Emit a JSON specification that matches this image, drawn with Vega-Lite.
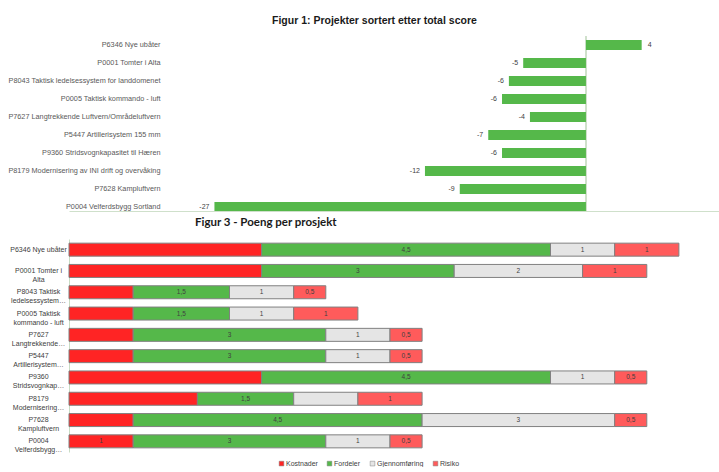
{
  "$schema": "https://vega.github.io/schema/vega-lite/v6.json",
  "padding": {"left": 7, "top": 16, "right": 0, "bottom": 0},
  "background": "white",
  "config": {"view": {"stroke": null}, "font": "Liberation Sans"},
  "datasets": {
    "scores": [
      {"name": "P6346 Nye ubåter", "score": 4.05, "label": "4"},
      {"name": "P0001 Tomter i Alta", "score": -4.56, "label": "-5"},
      {"name": "P8043 Taktisk ledelsessystem for landdomenet", "score": -5.6, "label": "-6"},
      {"name": "P0005 Taktisk kommando - luft", "score": -6.1, "label": "-6"},
      {"name": "P7627 Langtrekkende Luftvern/Områdeluftvern", "score": -4.07, "label": "-4"},
      {"name": "P5447 Artillerisystem 155 mm", "score": -7.1, "label": "-7"},
      {"name": "P9360 Stridsvognkapasitet til Hæren", "score": -6.1, "label": "-6"},
      {"name": "P8179 Modernisering av INI drift og overvåking", "score": -11.7, "label": "-12"},
      {"name": "P7628 Kampluftvern", "score": -9.17, "label": "-9"},
      {"name": "P0004 Velferdsbygg Sortland", "score": -27, "label": "-27"}
    ],
    "parts": [
      {"project": "P6346 Nye ubåter", "category": "Kostnader", "rank": 1, "value": 3, "label": ""},
      {"project": "P6346 Nye ubåter", "category": "Fordeler", "rank": 2, "value": 4.5, "label": "4,5"},
      {"project": "P6346 Nye ubåter", "category": "Gjennomføring", "rank": 3, "value": 1, "label": "1"},
      {"project": "P6346 Nye ubåter", "category": "Risiko", "rank": 4, "value": 1, "label": "1"},
      {"project": "P0001 Tomter i|Alta", "category": "Kostnader", "rank": 1, "value": 3, "label": ""},
      {"project": "P0001 Tomter i|Alta", "category": "Fordeler", "rank": 2, "value": 3, "label": "3"},
      {"project": "P0001 Tomter i|Alta", "category": "Gjennomføring", "rank": 3, "value": 2, "label": "2"},
      {"project": "P0001 Tomter i|Alta", "category": "Risiko", "rank": 4, "value": 1, "label": "1"},
      {"project": "P8043 Taktisk|ledelsessystem…", "category": "Kostnader", "rank": 1, "value": 1, "label": ""},
      {"project": "P8043 Taktisk|ledelsessystem…", "category": "Fordeler", "rank": 2, "value": 1.5, "label": "1,5"},
      {"project": "P8043 Taktisk|ledelsessystem…", "category": "Gjennomføring", "rank": 3, "value": 1, "label": "1"},
      {"project": "P8043 Taktisk|ledelsessystem…", "category": "Risiko", "rank": 4, "value": 0.5, "label": "0,5"},
      {"project": "P0005 Taktisk|kommando - luft", "category": "Kostnader", "rank": 1, "value": 1, "label": ""},
      {"project": "P0005 Taktisk|kommando - luft", "category": "Fordeler", "rank": 2, "value": 1.5, "label": "1,5"},
      {"project": "P0005 Taktisk|kommando - luft", "category": "Gjennomføring", "rank": 3, "value": 1, "label": "1"},
      {"project": "P0005 Taktisk|kommando - luft", "category": "Risiko", "rank": 4, "value": 1, "label": "1"},
      {"project": "P7627|Langtrekkende…", "category": "Kostnader", "rank": 1, "value": 1, "label": ""},
      {"project": "P7627|Langtrekkende…", "category": "Fordeler", "rank": 2, "value": 3, "label": "3"},
      {"project": "P7627|Langtrekkende…", "category": "Gjennomføring", "rank": 3, "value": 1, "label": "1"},
      {"project": "P7627|Langtrekkende…", "category": "Risiko", "rank": 4, "value": 0.5, "label": "0,5"},
      {"project": "P5447|Artillerisystem…", "category": "Kostnader", "rank": 1, "value": 1, "label": ""},
      {"project": "P5447|Artillerisystem…", "category": "Fordeler", "rank": 2, "value": 3, "label": "3"},
      {"project": "P5447|Artillerisystem…", "category": "Gjennomføring", "rank": 3, "value": 1, "label": "1"},
      {"project": "P5447|Artillerisystem…", "category": "Risiko", "rank": 4, "value": 0.5, "label": "0,5"},
      {"project": "P9360|Stridsvognkap…", "category": "Kostnader", "rank": 1, "value": 3, "label": ""},
      {"project": "P9360|Stridsvognkap…", "category": "Fordeler", "rank": 2, "value": 4.5, "label": "4,5"},
      {"project": "P9360|Stridsvognkap…", "category": "Gjennomføring", "rank": 3, "value": 1, "label": "1"},
      {"project": "P9360|Stridsvognkap…", "category": "Risiko", "rank": 4, "value": 0.5, "label": "0,5"},
      {"project": "P8179|Modernisering…", "category": "Kostnader", "rank": 1, "value": 2, "label": ""},
      {"project": "P8179|Modernisering…", "category": "Fordeler", "rank": 2, "value": 1.5, "label": "1,5"},
      {"project": "P8179|Modernisering…", "category": "Gjennomføring", "rank": 3, "value": 1, "label": ""},
      {"project": "P8179|Modernisering…", "category": "Risiko", "rank": 4, "value": 1, "label": "1"},
      {"project": "P7628|Kampluftvern", "category": "Kostnader", "rank": 1, "value": 1, "label": ""},
      {"project": "P7628|Kampluftvern", "category": "Fordeler", "rank": 2, "value": 4.5, "label": "4,5"},
      {"project": "P7628|Kampluftvern", "category": "Gjennomføring", "rank": 3, "value": 3, "label": "3"},
      {"project": "P7628|Kampluftvern", "category": "Risiko", "rank": 4, "value": 0.5, "label": "0,5"},
      {"project": "P0004|Velferdsbygg…", "category": "Kostnader", "rank": 1, "value": 1, "label": "1"},
      {"project": "P0004|Velferdsbygg…", "category": "Fordeler", "rank": 2, "value": 3, "label": "3"},
      {"project": "P0004|Velferdsbygg…", "category": "Gjennomføring", "rank": 3, "value": 1, "label": "1"},
      {"project": "P0004|Velferdsbygg…", "category": "Risiko", "rank": 4, "value": 0.5, "label": "0,5"}
    ]
  },
  "concat": [
    {
      "width": 650,
      "height": 175,
      "data": {"name": "scores"},
      "title": {"text": "Figur 1: Projekter sortert etter total score", "anchor": "start", "frame": "group", "dx": 203, "font": "Liberation Sans", "fontSize": 10.5, "fontWeight": "bold", "color": "#1a1a1a", "offset": 9},
      "encoding": {
        "y": {"field": "name", "type": "nominal", "sort": null, "scale": {"range": [0, 180], "paddingInner": 0.44, "paddingOuter": 0.22},
          "axis": {"title": null, "domain": false, "ticks": false, "labelAlign": "right", "labelFont": "Liberation Sans", "labelFontSize": 7.3, "labelColor": "#595959", "labelPadding": -91, "labelLimit": 300, "minExtent": 62, "maxExtent": 62}}
      },
      "layer": [
        {
          "mark": {"type": "rule", "color": "#cfe0cb", "strokeWidth": 1},
          "encoding": {"x": {"datum": 0, "type": "quantitative", "scale": {"domain": [-37.57, 9.67], "nice": false, "zero": false}}, "y": null}
        },
        {
          "mark": {"type": "bar", "color": "#55b84a", "size": 10, "clip": true},
          "encoding": {
            "x": {"field": "score", "type": "quantitative", "scale": {"domain": [-37.57, 9.67], "nice": false, "zero": false},
              "axis": {"title": null, "labels": false, "ticks": false, "grid": false, "domain": true, "domainColor": "#cfe0cb", "minExtent": 0, "maxExtent": 0}}
          }
        },
        {
          "transform": [{"filter": "datum.score >= 0"}],
          "mark": {"type": "text", "align": "left", "dx": 6, "fontSize": 7, "color": "#404040", "font": "Liberation Sans"},
          "encoding": {"x": {"field": "score", "type": "quantitative"}, "text": {"field": "label"}}
        },
        {
          "transform": [{"filter": "datum.score < 0"}],
          "mark": {"type": "text", "align": "right", "dx": -5, "fontSize": 7, "color": "#404040", "font": "Liberation Sans"},
          "encoding": {"x": {"field": "score", "type": "quantitative"}, "text": {"field": "label"}}
        }
      ]
    },
    {
      "width": 642,
      "height": 213,
      "data": {"name": "parts"},
      "title": {"text": "Figur 3 - Poeng per prosjekt", "anchor": "start", "frame": "group", "dx": 126, "font": "Lato", "fontSize": 11.5, "fontWeight": "bold", "color": "#1a1a1a", "offset": 11},
      "encoding": {
        "y": {"field": "project", "type": "nominal", "sort": null,
          "axis": {"title": null, "domain": true, "domainColor": "#c9dcc5", "ticks": false, "labelAlign": "center", "labelPadding": 31, "labelExpr": "split(datum.label, '|')", "labelFont": "Liberation Sans", "labelFontSize": 7, "labelColor": "#404040", "labelLineHeight": 9, "labelLimit": 200, "minExtent": 62, "maxExtent": 62}}
      },
      "layer": [
        {
          "mark": {"type": "bar", "size": 13, "stroke": "#808080", "strokeWidth": 1},
          "encoding": {
            "x": {"field": "value", "type": "quantitative", "stack": "zero", "scale": {"domain": [0, 10], "nice": false}, "axis": null},
            "color": {"field": "category", "type": "nominal",
              "scale": {"domain": ["Kostnader", "Fordeler", "Gjennomføring", "Risiko"], "range": ["#ff2424", "#55b84a", "#e5e5e5", "#ff5b5b"]},
              "legend": {"title": null, "orient": "none", "legendX": 209, "legendY": 424, "direction": "horizontal", "symbolType": "square", "symbolSize": 22, "symbolStrokeColor": "#808080", "symbolStrokeWidth": 0.5, "labelFont": "Liberation Sans", "labelFontSize": 7, "labelColor": "#404040", "labelOffset": 1, "columnPadding": 8, "padding": 0}},
            "order": {"field": "rank", "type": "quantitative"}
          }
        },
        {
          "mark": {"type": "text", "fontSize": 6.5, "color": "#404040", "font": "Liberation Sans"},
          "encoding": {
            "x": {"field": "value", "type": "quantitative", "stack": "zero", "bandPosition": 0.5},
            "detail": {"field": "category"},
            "order": {"field": "rank", "type": "quantitative"},
            "text": {"field": "label"}
          }
        }
      ]
    }
  ],
  "columns": 1,
  "align": "none",
  "spacing": 0
}
